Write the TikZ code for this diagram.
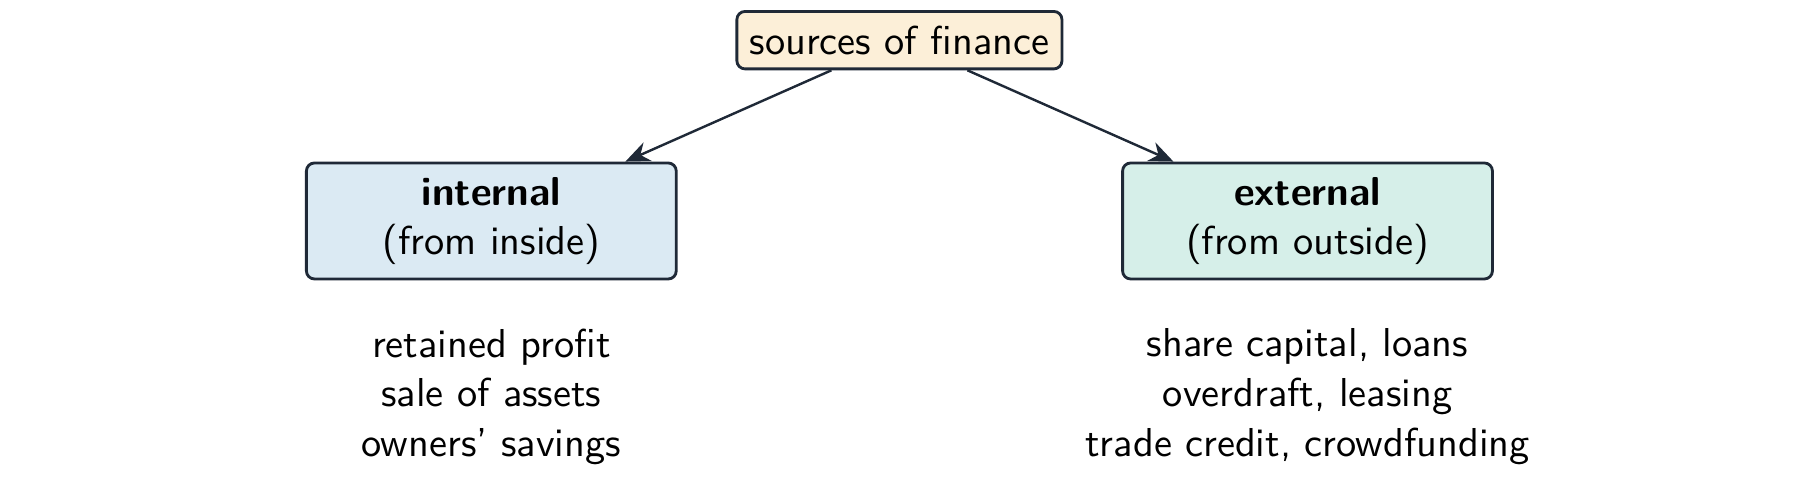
\documentclass[tikz,border=0pt]{standalone}
\usetikzlibrary{arrows.meta}
\renewcommand{\familydefault}{\sfdefault}
\definecolor{edgec}{HTML}{1F2937}
\definecolor{topfill}{HTML}{FCEFD8}
\definecolor{intfill}{HTML}{DBEAF3}
\definecolor{extfill}{HTML}{D6EFE9}
\tikzset{
  box/.style={draw=edgec, line width=0.7pt, rounded corners=2pt, align=center, inner sep=0pt, font=\sffamily},
  conn/.style={draw=edgec, line width=0.6pt, -{Stealth[length=6pt,width=5pt]}},
  list/.style={align=center, font=\sffamily}
}
\begin{document}
\begin{tikzpicture}[x=0.01cm,y=-0.01cm]
\useasboundingbox (0,0) rectangle (1568,415.5);
\node[box, fill=topfill, minimum width=28.3mm, minimum height=5.0mm] (top) at (783.5,35) {sources of finance};
\node[box, fill=intfill, minimum width=32.2mm, minimum height=10.1mm] (int) at (428,192.5) {\textbf{internal}\\[0.3pt](from inside)};
\node[box, fill=extfill, minimum width=32.2mm, minimum height=10.1mm] (ext) at (1139,192.5) {\textbf{external}\\[0.3pt](from outside)};
\node[list] (intl) at (428,345.5) {retained profit\\[0.3pt]sale of assets\\[0.3pt]owners' savings};
\node[list] (extl) at (1139,345.5) {share capital, loans\\[0.3pt]overdraft, leasing\\[0.3pt]trade credit, crowdfunding};
\draw[conn] (top) -- (int);
\draw[conn] (top) -- (ext);
\end{tikzpicture}
\end{document}
